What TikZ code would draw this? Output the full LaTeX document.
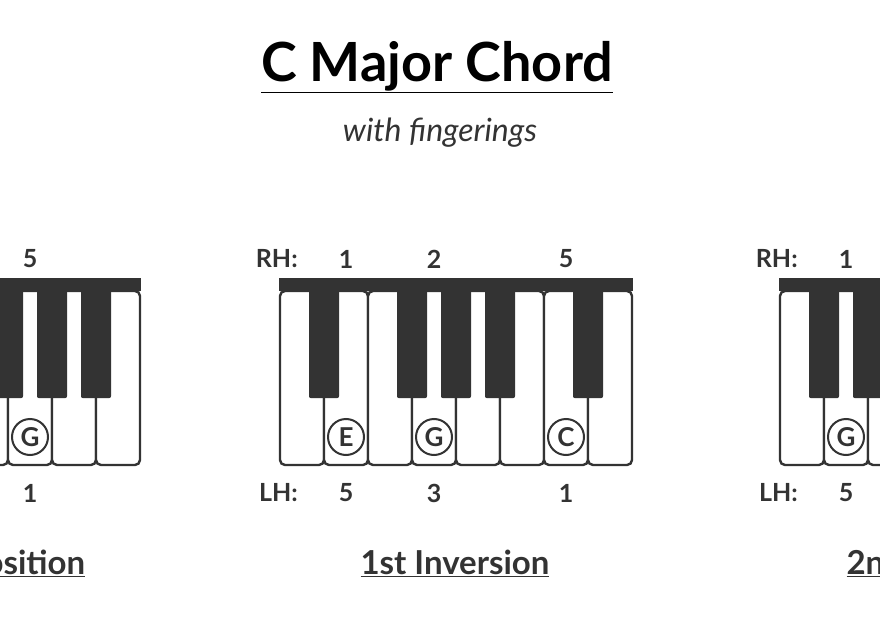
\documentclass[tikz,border=0pt]{standalone}
\usepackage{fontspec}
\setmainfont{Lato}
\usetikzlibrary{positioning}
\definecolor{keyink}{HTML}{333333}
\begin{document}
\begin{tikzpicture}[x=1pt, y=-1pt,
	whitekey/.style={draw=keyink, line width=2.4pt, fill=white, rounded corners=5pt, minimum width=44pt, minimum height=174pt, inner sep=0pt},
	blackkey/.style={fill=keyink, rounded corners=2pt, minimum width=30pt, minimum height=113pt, inner sep=0pt, anchor=north},
	notecirc/.style={circle, draw=keyink, line width=2pt, minimum size=36pt, inner sep=0pt, text=keyink, font=\fontsize{26}{26}\selectfont\bfseries},
	finger/.style={text=keyink, font=\fontsize{25}{25}\selectfont\bfseries},
	heading/.style={text=keyink, font=\fontsize{33}{33}\selectfont\bfseries}]
	\useasboundingbox (0,0) rectangle (880,639);
	\clip (0,0) rectangle (880,639);

	\node[text=black, font=\fontsize{54}{54}\selectfont\bfseries] (title) at (437,67) {\underline{C Major Chord}};
	\node[text=keyink, font=\fontsize{32}{32}\selectfont\itshape] (sub) at (440,133) {with fingerings};

	% root position: C D E F G A B
	\foreach \i in {1,...,7}
		\node[whitekey] (r\i) at (-190+44*\i, 378) {};
	\fill[keyink] (-168,278) rectangle (141,291);
	\foreach \i in {1,2,4,5,6}
		\node[blackkey] (rb\i) at (-168+44*\i, 285) {};
	\foreach \i/\l/\r/\h in {1/C/1/5, 3/E/3/3, 5/G/5/1}
	{
		\node[notecirc] (rn\i) at (r\i |- 0,437) {\l};
		\node[finger] (rr\i) at (r\i |- 0,259) {\r};
		\node[finger] (rl\i) at (r\i |- 0,493) {\h};
	}
	\node[heading] (rt) at (-14,563) {\underline{Root Position}};

	% 1st inversion: D E F G A B C D
	\foreach \i in {1,...,8}
		\node[whitekey] (f\i) at (258+44*\i, 378) {};
	\fill[keyink] (279,278) rectangle (633,291);
	\foreach \i in {1,3,4,5,7}
		\node[blackkey] (fb\i) at (280+44*\i, 285) {};
	\foreach \i/\l/\r/\h in {2/E/1/5, 4/G/2/3, 7/C/5/1}
	{
		\node[notecirc] (fn\i) at (f\i |- 0,437) {\l};
		\node[finger] (fr\i) at (f\i |- 0,259) {\r};
		\node[finger] (fl\i) at (f\i |- 0,493) {\h};
	}
	\node[finger, left=34pt of fr2.west, anchor=east] (frh) {RH:};
	\node[finger, left=34pt of fl2.west, anchor=east] (flh) {LH:};
	\node[heading] (ft) at (455,563) {\underline{1st Inversion}};

	% 2nd inversion: F G A B C D E F
	\foreach \i in {1,...,8}
		\node[whitekey] (s\i) at (758+44*\i, 378) {};
	\fill[keyink] (779,278) rectangle (1133,291);
	\foreach \i in {1,2,3,5,6}
		\node[blackkey] (sb\i) at (780+44*\i, 285) {};
	\foreach \i/\l/\r/\h in {2/G/1/5, 5/C/3/2, 7/E/5/1}
	{
		\node[notecirc] (sn\i) at (s\i |- 0,437) {\l};
		\node[finger] (sr\i) at (s\i |- 0,259) {\r};
		\node[finger] (sl\i) at (s\i |- 0,493) {\h};
	}
	\node[finger, left=34pt of sr2.west, anchor=east] (srh) {RH:};
	\node[finger, left=34pt of sl2.west, anchor=east] (slh) {LH:};
	\node[heading, anchor=west] (st) at (843,563) {\underline{2nd Inversion}};
\end{tikzpicture}
\end{document}
